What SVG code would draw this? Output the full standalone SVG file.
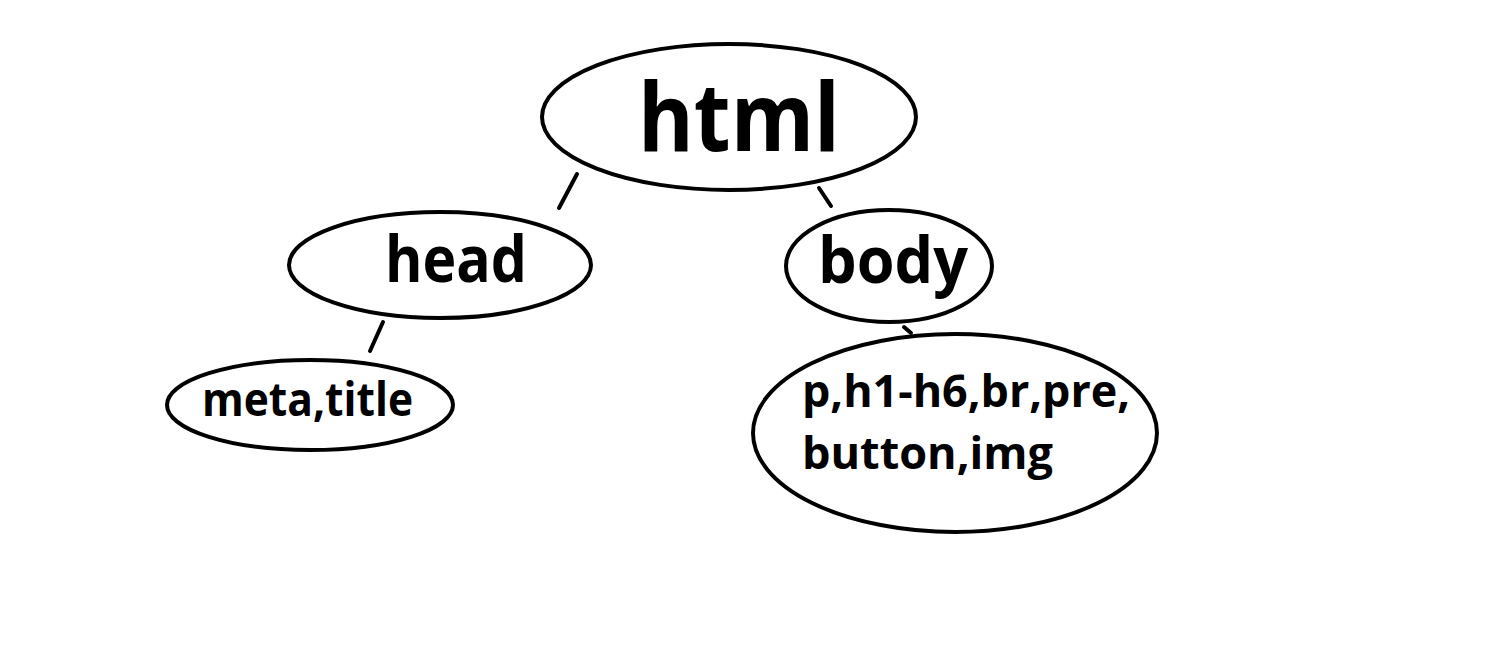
<svg xmlns="http://www.w3.org/2000/svg" width="1511" height="668" viewBox="0 0 1511 668">
<style>
.n{fill:#fff;stroke:#000;stroke-width:4}
.t{font-family:"Open Sans","Noto Sans",sans-serif;font-weight:bold;fill:#000}
.c{stroke:#000;stroke-width:4;stroke-linecap:round}
</style>
<rect width="1511" height="668" fill="#fff"/>
<g id="connectors">
<line class="c" x1="577" y1="174" x2="559" y2="208"/>
<line class="c" x1="819" y1="188" x2="831" y2="206"/>
<line class="c" x1="383" y1="322" x2="370" y2="351"/>
<line class="c" x1="904" y1="327" x2="911" y2="333"/>
</g>
<g id="html">
<ellipse class="n" cx="729" cy="117" rx="187" ry="73"/>
<text class="t" x="638" y="151" font-size="95" textLength="202" lengthAdjust="spacingAndGlyphs">html</text>
</g>
<g id="head">
<ellipse class="n" cx="440" cy="265" rx="151" ry="53"/>
<text class="t" x="385" y="282" font-size="64" textLength="142" lengthAdjust="spacingAndGlyphs">head</text>
</g>
<g id="body">
<ellipse class="n" cx="889" cy="266" rx="103" ry="56"/>
<text class="t" x="818" y="283" font-size="64" textLength="150" lengthAdjust="spacingAndGlyphs">body</text>
</g>
<g id="meta">
<ellipse class="n" cx="310" cy="405" rx="143" ry="45"/>
<text class="t" x="202" y="416" font-size="46" textLength="211" lengthAdjust="spacingAndGlyphs">meta,title</text>
</g>
<g id="elements">
<ellipse class="n" cx="955" cy="433" rx="202" ry="99"/>
<text class="t" x="802" y="407" font-size="45" textLength="328" lengthAdjust="spacingAndGlyphs">p,h1-h6,br,pre,</text>
<text class="t" x="802" y="469" font-size="45" textLength="251" lengthAdjust="spacingAndGlyphs">button,img</text>
</g>
</svg>
